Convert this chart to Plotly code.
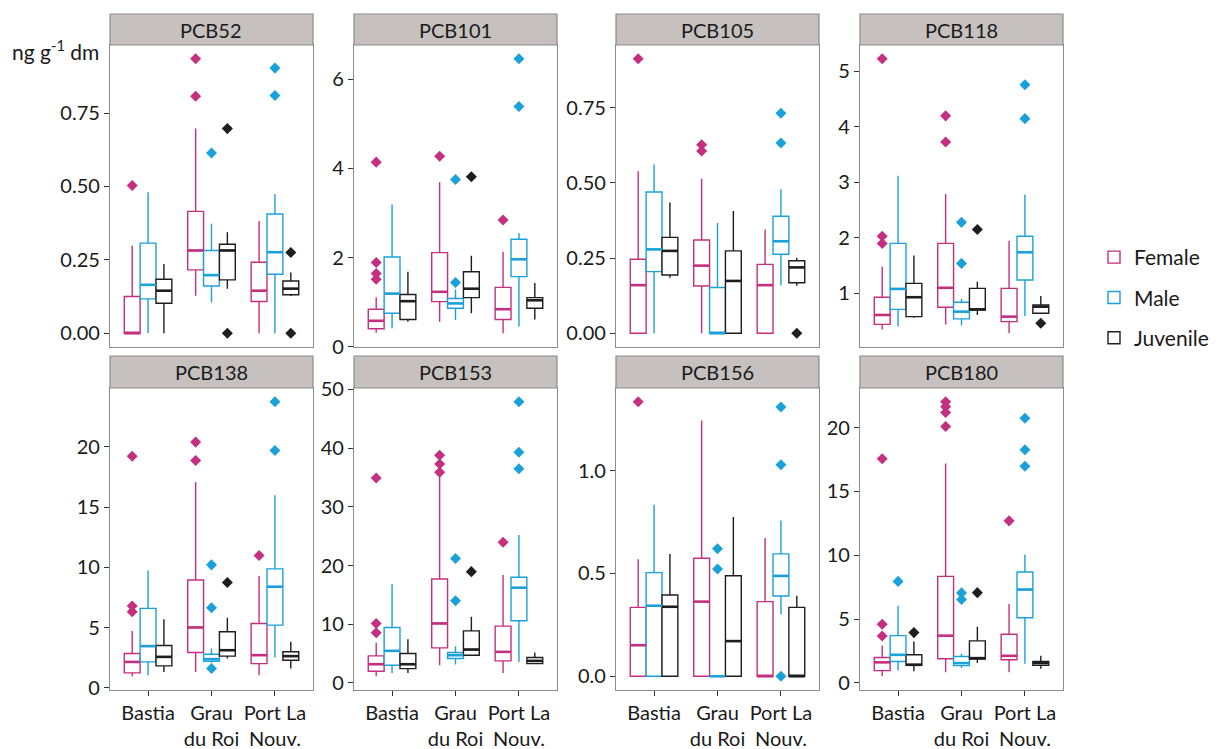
import plotly.graph_objects as go

W, H = 1226, 749

SITES = ["Bastia", "Grau<br>du Roi", "Port La<br>Nouv."]
SITE_POS = [1, 2, 3]
SEXES = ["Female", "Male", "Juvenile"]
PANELS = ["PCB52", "PCB101", "PCB105", "PCB118", "PCB138", "PCB153", "PCB156", "PCB180"]

# ---- summary statistics (per site: Bastia, Grau du Roi, Port La Nouv.) ----
PCB52_FEMALE = dict(lo=[0, 0.128, 0], q1=[0, 0.216, 0.108], med=[0, 0.282, 0.145],
                    q3=[0.125, 0.415, 0.242], hi=[0.298, 0.697, 0.382], out=[[0.503], [0.807, 0.935], []])
PCB52_MALE = dict(lo=[0, 0.105, 0], q1=[0.117, 0.161, 0.201], med=[0.165, 0.198, 0.276],
                  q3=[0.307, 0.282, 0.406], hi=[0.48, 0.373, 0.474], out=[[], [0.614], [0.81, 0.903]])
PCB52_JUV = dict(lo=[0, 0.152, 0.127], q1=[0.102, 0.182, 0.131], med=[0.145, 0.282, 0.152],
                 q3=[0.184, 0.303, 0.178], hi=[0.236, 0.344, 0.207], out=[[], [0, 0.697], [0, 0.275]])

PCB101_FEMALE = dict(lo=[0.31, 0.56, 0.30], q1=[0.40, 1.01, 0.61], med=[0.58, 1.23, 0.84],
                     q3=[0.84, 2.11, 1.33], hi=[1.1, 3.69, 2.13], out=[[1.51, 1.64, 1.89, 4.14], [4.27], [2.84]])
PCB101_MALE = dict(lo=[0.41, 0.60, 0.45], q1=[0.75, 0.86, 1.57], med=[1.19, 0.97, 1.96],
                   q3=[2.01, 1.08, 2.41], hi=[3.19, 1.28, 2.55], out=[[], [1.44, 3.75], [5.39, 6.46]])
PCB101_JUV = dict(lo=[0.56, 0.75, 0.61], q1=[0.61, 1.10, 0.86], med=[1.02, 1.30, 1.04],
                  q3=[1.17, 1.68, 1.10], hi=[1.68, 2.04, 1.43], out=[[], [3.81], []])

PCB105_FEMALE = dict(lo=[0, 0, 0], q1=[0, 0.157, 0], med=[0.160, 0.225, 0.160],
                     q3=[0.246, 0.31, 0.229], hi=[0.539, 0.514, 0.345], out=[[0.913], [0.606, 0.627], []])
PCB105_MALE = dict(lo=[0, 0, 0.16], q1=[0.205, 0, 0.263], med=[0.279, 0, 0.306],
                   q3=[0.47, 0.152, 0.389], hi=[0.561, 0.367, 0.479], out=[[], [], [0.633, 0.732]])
PCB105_JUV = dict(lo=[0.185, 0, 0.158], q1=[0.194, 0, 0.168], med=[0.274, 0.174, 0.219],
                  q3=[0.319, 0.274, 0.241], hi=[0.435, 0.407, 0.251], out=[[], [], [0]])

PCB118_FEMALE = dict(lo=[0.35, 0.44, 0.28], q1=[0.44, 0.75, 0.49], med=[0.61, 1.10, 0.58],
                     q3=[0.93, 1.90, 1.09], hi=[1.48, 2.79, 1.95], out=[[1.90, 2.03, 5.23], [3.73, 4.20], []])
PCB118_MALE = dict(lo=[0.40, 0.42, 0.59], q1=[0.71, 0.54, 1.24], med=[1.08, 0.67, 1.74],
                   q3=[1.90, 0.84, 2.03], hi=[3.12, 0.90, 2.78], out=[[], [1.54, 2.28], [4.15, 4.76]])
PCB118_JUV = dict(lo=[0.56, 0.61, 0.64], q1=[0.58, 0.70, 0.64], med=[0.93, 0.71, 0.76],
                  q3=[1.18, 1.09, 0.79], hi=[1.68, 1.21, 0.95], out=[[], [2.15], [0.46]])

PCB138_FEMALE = dict(lo=[0.97, 1.33, 1.05], q1=[1.25, 2.94, 2.02], med=[2.16, 5.02, 2.72],
                     q3=[2.86, 8.96, 5.35], hi=[4.72, 17.09, 9.29], out=[[6.32, 6.8, 19.22], [18.86, 20.39], [10.98]])
PCB138_MALE = dict(lo=[1.05, 2.1, 2.52], q1=[2.16, 2.22, 5.21], med=[3.47, 2.39, 8.4],
                   q3=[6.6, 2.80, 9.88], hi=[9.74, 3.27, 15.98], out=[[], [1.61, 6.66, 10.21], [19.7, 23.74]])
PCB138_JUV = dict(lo=[1.33, 2.44, 1.61], q1=[1.83, 2.64, 2.30], med=[2.58, 3.13, 2.64],
                  q3=[3.52, 4.66, 3.0], hi=[5.69, 5.83, 3.83], out=[[], [8.74], []])

PCB153_FEMALE = dict(lo=[1.14, 3.0, 1.71], q1=[2.0, 5.98, 3.76], med=[3.19, 10.14, 5.30],
                     q3=[4.61, 17.71, 9.68], hi=[6.83, 35.2, 18.39], out=[[8.54, 10.14, 34.9], [35.9, 37.3, 38.8], [23.97]])
PCB153_MALE = dict(lo=[1.71, 3.13, 3.59], q1=[3.02, 4.16, 10.59], med=[5.47, 4.73, 16.23],
                   q3=[9.45, 5.18, 18.0], hi=[16.8, 6.26, 25.2], out=[[], [14.0, 21.2], [36.5, 39.3, 47.9]])
PCB153_JUV = dict(lo=[1.71, 4.61, 3.19], q1=[2.45, 4.73, 3.30], med=[3.19, 5.69, 3.76],
                  q3=[5.01, 8.88, 4.33], hi=[7.46, 11.28, 5.18], out=[[], [18.96], []])

PCB156_FEMALE = dict(lo=[0, 0, 0], q1=[0, 0, 0], med=[0.151, 0.363, 0],
                     q3=[0.335, 0.574, 0.363], hi=[0.569, 1.244, 0.672], out=[[1.335], [], []])
PCB156_MALE = dict(lo=[0, 0, 0.302], q1=[0, 0, 0.39], med=[0.343, 0, 0.488],
                   q3=[0.504, 0, 0.595], hi=[0.834, 0, 0.758], out=[[], [0.522, 0.62], [0, 1.029, 1.309]])
PCB156_JUV = dict(lo=[0, 0, 0], q1=[0, 0, 0], med=[0.338, 0.171, 0],
                  q3=[0.395, 0.489, 0.335], hi=[0.595, 0.774, 0.392], out=[[], [], []])

PCB180_FEMALE = dict(lo=[0.52, 0.83, 0.83], q1=[0.96, 1.89, 1.81], med=[1.61, 3.70, 2.12],
                     q3=[1.99, 8.34, 3.81], hi=[2.93, 17.18, 6.17],
                     out=[[3.68, 4.59, 17.56], [20.08, 21.17, 21.63, 22.02], [12.69]])
PCB180_MALE = dict(lo=[0.98, 1.17, 1.50], q1=[1.68, 1.35, 5.10], med=[2.20, 1.55, 7.31],
                   q3=[3.70, 2.07, 8.68], hi=[6.04, 2.28, 10.05], out=[[7.95], [6.53, 7.05], [16.97, 18.26, 20.73]])
PCB180_JUV = dict(lo=[0.91, 1.55, 1.11], q1=[1.37, 1.87, 1.37], med=[1.42, 1.94, 1.55],
                  q3=[2.20, 3.29, 1.68], hi=[3.24, 4.40, 2.12], out=[[3.94], [7.07], []])

Y_TICKS = {
    "PCB52": ([0, 0.25, 0.5, 0.75], ["0.00", "0.25", "0.50", "0.75"]),
    "PCB101": ([0, 2, 4, 6], ["0", "2", "4", "6"]),
    "PCB105": ([0, 0.25, 0.5, 0.75], ["0.00", "0.25", "0.50", "0.75"]),
    "PCB118": ([1, 2, 3, 4, 5], ["1", "2", "3", "4", "5"]),
    "PCB138": ([0, 5, 10, 15, 20], ["0", "5", "10", "15", "20"]),
    "PCB153": ([0, 10, 20, 30, 40, 50], ["0", "10", "20", "30", "40", "50"]),
    "PCB156": ([0, 0.5, 1.0], ["0.0", "0.5", "1.0"]),
    "PCB180": ([0, 5, 10, 15, 20], ["0", "5", "10", "15", "20"]),
}

DATA = {
    "PCB52": [PCB52_FEMALE, PCB52_MALE, PCB52_JUV],
    "PCB101": [PCB101_FEMALE, PCB101_MALE, PCB101_JUV],
    "PCB105": [PCB105_FEMALE, PCB105_MALE, PCB105_JUV],
    "PCB118": [PCB118_FEMALE, PCB118_MALE, PCB118_JUV],
    "PCB138": [PCB138_FEMALE, PCB138_MALE, PCB138_JUV],
    "PCB153": [PCB153_FEMALE, PCB153_MALE, PCB153_JUV],
    "PCB156": [PCB156_FEMALE, PCB156_MALE, PCB156_JUV],
    "PCB180": [PCB180_FEMALE, PCB180_MALE, PCB180_JUV],
}

# ---- styling ----
COLORS = {"Female": "#C4307F", "Male": "#1BA1D9", "Juvenile": "#1E1E1E"}
OFFSETS = {"Female": -0.25, "Male": 0.0, "Juvenile": 0.25}
BOX_W = 0.25
FONT = "Lato"
TXT = "#1a1a1a"
PANEL_LEFT = [110, 354, 616, 860]
PANEL_W = 203
ROWS = [dict(strip_top=14, plot_top=45, plot_bot=347), dict(strip_top=356, plot_top=388, plot_bot=690)]
BORDER = "#8C8C8C"

fig = go.Figure()
layout = {}
shapes = []
annotations = []

for k, panel in enumerate(PANELS):
    idx = k + 1
    row = ROWS[k // 4]
    left = PANEL_LEFT[k % 4]
    xa = "x" if idx == 1 else f"x{idx}"
    ya = "y" if idx == 1 else f"y{idx}"
    allv = []
    for sex, d in zip(SEXES, DATA[panel]):
        pos = [p + OFFSETS[sex] for p in SITE_POS]
        col = COLORS[sex]
        fig.add_trace(go.Box(
            x=pos, q1=d["q1"], median=d["med"], q3=d["q3"],
            lowerfence=d["lo"], upperfence=d["hi"],
            width=BOX_W, whiskerwidth=0, boxpoints=False,
            line=dict(color=col, width=1.4), fillcolor="white",
            name=sex, legendgroup=sex, showlegend=(idx == 1),
            xaxis=xa, yaxis=ya, hoverinfo="skip",
        ))
        # thicker median line
        mx, my = [], []
        for p, m in zip(pos, d["med"]):
            mx += [p - BOX_W / 2, p + BOX_W / 2, None]
            my += [m, m, None]
        fig.add_trace(go.Scatter(x=mx, y=my, mode="lines", line=dict(color=col, width=2.6),
                                 showlegend=False, legendgroup=sex,
                                 xaxis=xa, yaxis=ya, hoverinfo="skip"))
        ox, oy = [], []
        for p, outs in zip(pos, d["out"]):
            for v in outs:
                ox.append(p)
                oy.append(v)
        if ox:
            fig.add_trace(go.Scatter(x=ox, y=oy, mode="markers",
                                     marker=dict(symbol="diamond", size=8.5, color=col),
                                     showlegend=False, legendgroup=sex,
                                     xaxis=xa, yaxis=ya, hoverinfo="skip"))
        allv += d["lo"] + d["hi"] + [v for o in d["out"] for v in o]
    vmin, vmax = min(allv), max(allv)
    pad = 0.05 * (vmax - vmin)
    bottom_row = k >= 4
    xdom = [left / W, (left + PANEL_W) / W]
    ydom = [1 - row["plot_bot"] / H, 1 - row["plot_top"] / H]
    tv, tt = Y_TICKS[panel]
    layout["xaxis" if idx == 1 else f"xaxis{idx}"] = dict(
        domain=xdom, anchor=ya, range=[0.4, 3.6], automargin=False,
        tickvals=SITE_POS, ticktext=SITES, showticklabels=bottom_row,
        ticks="outside" if bottom_row else "", ticklen=5, tickwidth=1.3, tickcolor="#333333",
        tickfont=dict(family=FONT, size=20, color=TXT),
        showline=True, mirror=True, linecolor=BORDER, linewidth=1.2,
        showgrid=False, zeroline=False,
    )
    layout["yaxis" if idx == 1 else f"yaxis{idx}"] = dict(
        domain=ydom, anchor=xa, range=[vmin - pad, vmax + pad], automargin=False,
        tickvals=tv, ticktext=tt, ticks="outside", ticklen=5, tickwidth=1.3, tickcolor="#333333",
        tickfont=dict(family=FONT, size=20, color=TXT),
        showline=True, mirror=True, linecolor=BORDER, linewidth=1.2,
        showgrid=False, zeroline=False,
    )
    # strip
    shapes.append(dict(type="rect", xref="paper", yref="paper",
                       x0=left / W, x1=(left + PANEL_W) / W,
                       y0=1 - row["plot_top"] / H, y1=1 - row["strip_top"] / H,
                       fillcolor="#C6C1BE", line=dict(color=BORDER, width=1.2), layer="above"))
    annotations.append(dict(text=panel, xref="paper", yref="paper",
                            x=(left + PANEL_W / 2) / W,
                            y=1 - (row["strip_top"] + row["plot_top"]) / 2 / H,
                            xanchor="center", yanchor="middle", showarrow=False,
                            font=dict(family=FONT, size=20, color=TXT)))

annotations.append(dict(text="ng g<sup>-1</sup> dm", xref="paper", yref="paper",
                        x=10 / W, y=1 - 50 / H, xanchor="left", yanchor="middle", showarrow=False,
                        font=dict(family=FONT, size=21, color=TXT)))

fig.update_layout(
    width=W, height=H,
    margin=dict(l=0, r=0, t=0, b=0, autoexpand=False),
    paper_bgcolor="white", plot_bgcolor="white",
    boxmode="overlay",
    shapes=shapes, annotations=annotations,
    legend=dict(x=1094 / W, y=1 - 237 / H, xanchor="left", yanchor="top",
                font=dict(family=FONT, size=21, color=TXT),
                tracegroupgap=10, bgcolor="rgba(0,0,0,0)", traceorder="grouped"),
    **layout,
)

fig.write_html(
    "out.html",
    config={"displayModeBar": False},
    post_script="document.body.style.margin='0';document.body.style.padding='0';"
                "document.body.style.overflow='hidden';",
)
